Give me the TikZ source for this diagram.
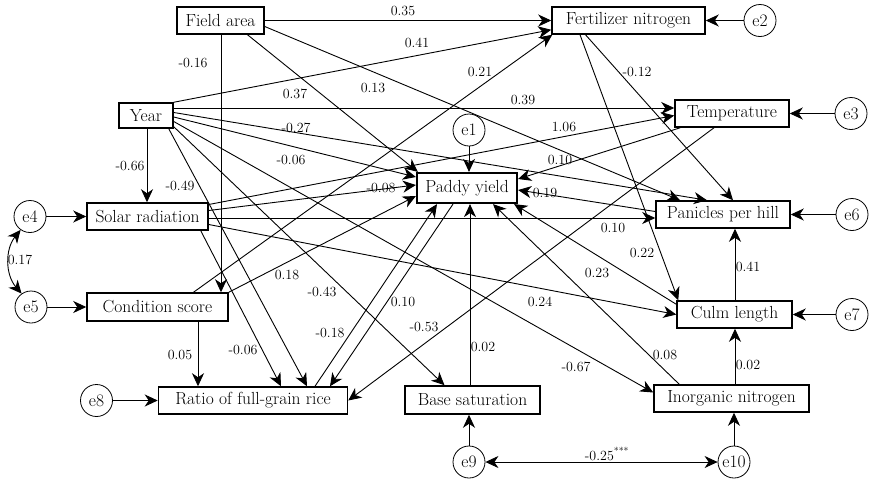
\documentclass[tikz,border=0pt]{standalone}
\usetikzlibrary{arrows.meta,calc}
\begin{document}
\begin{tikzpicture}[x=1pt,y=-1pt,
  box/.style={draw,line width=1.5pt,rectangle,inner sep=0pt,font=\rmfamily\fontsize{17.5}{19}\selectfont},
  err/.style={draw,line width=0.8pt,circle,minimum size=32pt,inner sep=0pt,font=\rmfamily\fontsize{17.5}{19}\selectfont},
  conn/.style={line width=0.9pt,-{Stealth[length=13pt,width=12pt,inset=4pt]}},
  cov/.style={line width=0.9pt,{Stealth[length=13pt,width=12pt,inset=4pt]}-{Stealth[length=13pt,width=12pt,inset=4pt]}},
  lbl/.style={font=\rmfamily\fontsize{14}{15}\selectfont,inner sep=0pt}
]
\useasboundingbox (0,0) rectangle (872,480);
% observed variables
\node[box,minimum width=87pt,minimum height=27pt] (fa) at (220.5,20.5) {Field area};
\node[box,minimum width=153pt,minimum height=27pt] (fert) at (628.5,20.5) {Fertilizer nitrogen};
\node[box,minimum width=54pt,minimum height=25pt] (year) at (146,115.5) {Year};
\node[box,minimum width=114pt,minimum height=27pt] (temp) at (732,113.5) {Temperature};
\node[box,line width=2.2pt,minimum width=100pt,minimum height=30pt] (pad) at (467,188) {Paddy yield};
\node[box,minimum width=121pt,minimum height=27pt] (solar) at (147.5,216.5) {Solar radiation};
\node[box,minimum width=134pt,minimum height=27pt] (pan) at (723,214.5) {Panicles per hill};
\node[box,minimum width=141pt,minimum height=28pt] (cond) at (157.5,307) {Condition score};
\node[box,minimum width=115pt,minimum height=27pt] (culm) at (734.5,314.5) {Culm length};
\node[box,minimum width=189pt,minimum height=27pt] (ratio) at (253,400.5) {Ratio of full-grain rice};
\node[box,minimum width=135pt,minimum height=28pt] (base) at (472.5,400) {Base saturation};
\node[box,minimum width=155pt,minimum height=27pt] (inorg) at (731.5,398.5) {Inorganic nitrogen};
% error terms
\node[err] (e1) at (469,130) {e1};
\node[err] (e2) at (760,20.5) {e2};
\node[err] (e3) at (851,113.5) {e3};
\node[err] (e4) at (30,216.5) {e4};
\node[err] (e5) at (31,307) {e5};
\node[err] (e6) at (852,214.5) {e6};
\node[err] (e7) at (852,314.5) {e7};
\node[err] (e8) at (96.5,400.5) {e8};
\node[err] (e9) at (469,462) {e9};
\node[err] (e10) at (734,462) {e10};
% error arrows
\draw[conn] (e1) -- ($(pad.north)+(2,0)$);
\draw[conn] (e2) -- (fert);
\draw[conn] (e3) -- (temp);
\draw[conn] (e4) -- (solar);
\draw[conn] (e5) -- (cond);
\draw[conn] (e6) -- (pan);
\draw[conn] (e7) -- (culm);
\draw[conn] (e8) -- (ratio);
\draw[conn] (e9) -- ($(base.south)+(-3.5,0)$);
\draw[conn] (e10) -- ($(inorg.south)+(2.5,0)$);
\draw[cov] (e4.235) to[bend right=40] (e5.125);
\draw[cov] (e9) -- (e10);
% Field area
\draw[conn] (fa.east) -- (fert.west);
\draw[conn] ($(fa.south)+(27,0)$) -- ($(pad.north west)+(2,0)$);
\draw[conn] ($(fa.east)+(0,6)$) -- ($(pan.north)+(-43,0)$);
\draw[conn] ($(fa.south)+(0.5,0)$) -- ($(cond.north)+(63.5,0)$);
% Year
\draw[conn] (year.north east) -- ($(fert.south west)+(0,-5)$);
\draw[conn] ($(year.east)+(0,-7.5)$) -- ($(temp.west)+(0,-5.5)$);
\draw[conn] ($(year.east)+(0,-3)$) -- ($(pan.north)+(-16,0)$);
\draw[conn] ($(year.east)+(0,1.5)$) -- ($(pad.west)+(0,-11)$);
\draw[conn] ($(year.south)+(1,0)$) -- ($(solar.north)+(-0.5,0)$);
\draw[conn] ($(year.south east)+(-5,0)$) -- ($(ratio.north)+(54,0)$);
\draw[conn] ($(year.south east)+(0,-2)$) -- ($(base.north)+(-28,0)$);
\draw[conn] ($(year.east)+(0,6)$) -- ($(inorg.west)+(0,-6)$);
% Solar radiation
\draw[conn] ($(solar.east)+(0,-12)$) -- ($(temp.west)+(0,2)$);
\draw[conn] ($(solar.east)+(0,-6)$) -- ($(pad.west)+(0,-3)$);
\draw[conn] ($(solar.east)+(0,1.5)$) -- ($(pan.west)+(0,3.5)$);
\draw[conn] ($(solar.east)+(0,8)$) -- (culm.west);
\draw[conn] ($(solar.south east)+(-8,0)$) -- ($(ratio.north)+(28,0)$);
% Condition score
\draw[conn] ($(cond.north)+(36,0)$) -- ($(fert.south west)+(1,0)$);
\draw[conn] (cond.north east) -- ($(pad.west)+(0,8)$);
\draw[conn] ($(cond.south)+(40.5,0)$) -- ($(ratio.north)+(-55,0)$);
% Temperature
\draw[conn] ($(temp.south west)+(6,0)$) -- ($(pad.east)+(0,-9)$);
\draw[conn] ($(temp.south)+(-18,0)$) -- (ratio.east);
% Fertilizer nitrogen
\draw[conn] ($(fert.south)+(-43,0)$) -- ($(pan.north)+(10,0)$);
\draw[conn] ($(fert.south)+(-48.5,0)$) -- ($(culm.north west)+(2,0)$);
% Panicles, culm, inorganic, base, ratio
\draw[conn] ($(pan.west)+(0,-3)$) -- ($(pad.east)+(0,2)$);
\draw[conn] ($(culm.north)+(0.5,0)$) -- ($(pan.south)+(12,0)$);
\draw[conn] ($(culm.north west)+(0,4)$) -- ($(pad.south east)+(-4,0)$);
\draw[conn] ($(inorg.north)+(3.5,0)$) -- ($(culm.south)+(0.5,0)$);
\draw[conn] ($(inorg.north west)+(26,0)$) -- ($(pad.south)+(26,0)$);
\draw[conn] ($(base.north)+(-2.5,0)$) -- ($(pad.south)+(3,0)$);
\draw[conn] ($(ratio.north)+(62,0)$) -- ($(pad.south)+(-30,0)$);
\draw[conn] ($(pad.south)+(-14,0)$) -- ($(ratio.north)+(77,0)$);
% labels
\node[lbl] (l1) at (403,11) {0.35};
\node[lbl] (l2) at (295,94) {0.37};
\node[lbl] (l3) at (373,88) {0.13};
\node[lbl] (l4) at (193,63) {-0.16};
\node[lbl] (l5) at (417,43) {0.41};
\node[lbl] (l6) at (523,100) {0.39};
\node[lbl] (l7) at (296,128) {-0.27};
\node[lbl] (l8) at (291,160) {-0.06};
\node[lbl] (l9) at (130,166) {-0.66};
\node[lbl] (l10) at (180,186) {-0.49};
\node[lbl] (l11) at (322,292) {-0.43};
\node[lbl] (l12) at (576,367) {-0.67};
\node[lbl] (l13) at (564,127) {1.06};
\node[lbl] (l14) at (381,188) {-0.08};
\node[lbl] (l15) at (613,228) {0.10};
\node[lbl] (l16) at (540,302) {0.24};
\node[lbl] (l17) at (243,350) {-0.06};
\node[lbl] (l18) at (480,72) {0.21};
\node[lbl] (l19) at (287,275) {0.18};
\node[lbl] (l20) at (180,355) {0.05};
\node[lbl] (l21) at (560,160) {0.10};
\node[lbl] (l22) at (424,327) {-0.53};
\node[lbl] (l23) at (637,72) {-0.12};
\node[lbl] (l24) at (642,253) {0.22};
\node[lbl] (l25) at (545,193) {0.19};
\node[lbl] (l26) at (748,267) {0.41};
\node[lbl] (l27) at (597,273) {0.23};
\node[lbl] (l28) at (748,365) {0.02};
\node[lbl] (l29) at (665,355) {0.08};
\node[lbl] (l30) at (483,347) {0.02};
\node[lbl] (l31) at (330,333) {-0.18};
\node[lbl] (l32) at (403,302) {0.10};
\node[lbl] (l33) at (20,260) {0.17};
\node[lbl] (l34) at (607,454) {-0.25\textsuperscript{***}};
\end{tikzpicture}
\end{document}
